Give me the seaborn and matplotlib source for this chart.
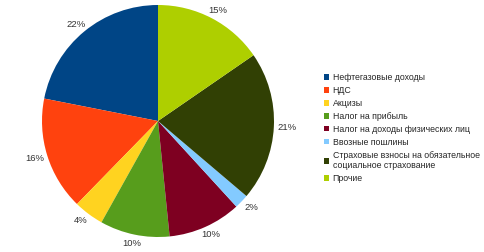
import matplotlib
matplotlib.use("Agg")
import matplotlib.pyplot as plt
import seaborn as sns
import numpy as np

categories = [
    "Нефтегазовые доходы",
    "НДС",
    "Акцизы",
    "Налог на прибыль",
    "Налог на доходы физических лиц",
    "Ввозные пошлины",
    "Страховые взносы на обязательное\nсоциальное страхование",
    "Прочие",
]
shares = [21.9, 15.8, 4.2, 9.7, 10.2, 2.0, 20.8, 15.4]
colors_hex = ["#004586", "#FF420E", "#FFD320", "#579D1C",
              "#7E0021", "#83CAFF", "#314004", "#AECF00"]

sns.set_style("white")
plt.rcParams['font.family'] = ['Liberation Sans', 'DejaVu Sans']
palette = sns.color_palette(colors_hex)

fig = plt.figure(figsize=(4.85, 2.52), dpi=100)
W, H = 485, 252
cx, cy, r = 158, 121, 116
ax = fig.add_axes([(cx - r) / W, (H - cy - r) / H, 2 * r / W, 2 * r / H])

wedges, texts, autotexts = ax.pie(
    shares, colors=palette, startangle=90, counterclock=True,
    autopct="%.0f%%", pctdistance=1.1,
    wedgeprops=dict(linewidth=0),
    textprops=dict(fontsize=6.8, color="#333333"),
)
# place labels just outside the rim, offset by half their extent
for w, t in zip(wedges, autotexts):
    ang = np.deg2rad((w.theta1 + w.theta2) / 2)
    c, s = np.cos(ang), np.sin(ang)
    t.set_position((1.04 * c + 0.075 * c, 1.04 * s + 0.035 * s))
    t.set_ha("center")
    t.set_va("center")
ax.set_xlim(-1, 1)
ax.set_ylim(-1, 1)
ax.set_axis_off()

fig.legend(
    wedges, categories, loc="upper left",
    bbox_to_anchor=(324 / W, 1 - 73 / H),
    frameon=False, fontsize=6.3,
    handlelength=0.6, handleheight=0.6, handletextpad=0.4,
    labelspacing=0.45, borderaxespad=0, borderpad=0,
)

fig.savefig("out.png", dpi=100, facecolor="white")
